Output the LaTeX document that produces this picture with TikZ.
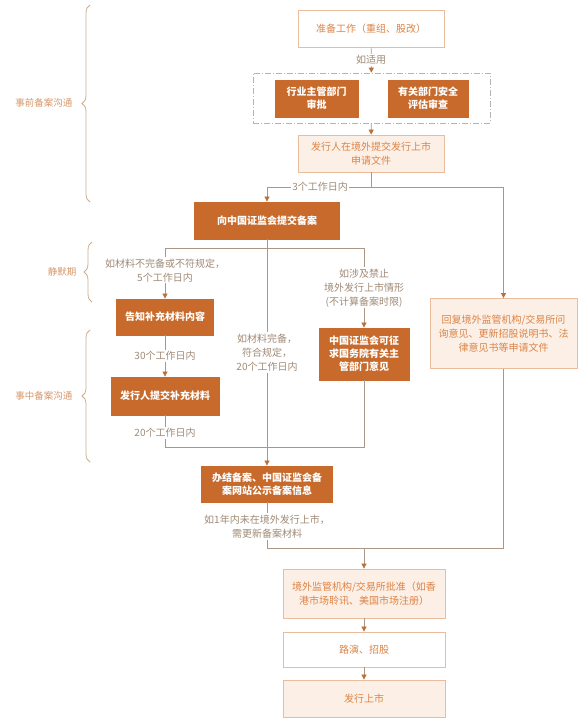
\documentclass[tikz,border=0pt]{standalone}
\usepackage{fontspec}
\setmainfont{Noto Sans CJK SC}
\usetikzlibrary{arrows.meta,decorations.pathreplacing}

\definecolor{darkc}{RGB}{199,106,43}
\definecolor{peachc}{RGB}{252,239,230}
\definecolor{borderc}{RGB}{232,188,156}
\definecolor{orangec}{RGB}{220,132,70}
\definecolor{labelc}{RGB}{160,138,118}
\definecolor{linec}{RGB}{172,150,134}
\definecolor{arrowc}{RGB}{185,112,58}
\definecolor{bracec}{RGB}{205,172,142}
\definecolor{bracetxt}{RGB}{214,150,104}
\definecolor{grayc}{RGB}{180,180,180}

\begin{document}
\begin{tikzpicture}[x=1pt,y=-1pt,
    font=\fontsize{10}{14}\selectfont,
    box/.style={draw=borderc,line width=0.8pt,align=center,inner sep=0pt},
    darkbox/.style={box,draw=darkc,fill=darkc,text=white,font=\fontsize{10}{13}\selectfont\bfseries},
    lightbox/.style={box,fill=peachc,text=orangec},
    whitebox/.style={box,fill=white,text=orangec},
    groupbox/.style={draw=grayc,line width=0.7pt,dash pattern=on 6pt off 2pt on 1pt off 2pt},
    lbl/.style={fill=white,text=labelc,align=center,inner sep=1.5pt},
    conn/.style={draw=linec,line width=0.7pt},
    arr/.style={conn,-{Triangle[width=5pt,length=5pt,color=arrowc]}},
    brc/.style={draw=bracec,line width=0.8pt,decorate,decoration={brace,amplitude=8pt}},
    brlbl/.style={text=bracetxt,anchor=east,font=\fontsize{9.5}{12}\selectfont}]
\useasboundingbox (0,0) rectangle (588,723);

\node (A)[whitebox,minimum width=146,minimum height=37] at (371,28.5) {准备工作（重组、股改）};
\node (G)[groupbox,minimum width=237,minimum height=50] at (371.5,98) {};
\node (B)[darkbox,minimum width=83,minimum height=37] at (316.5,98.5) {行业主管部门\\审批};
\node (C)[darkbox,minimum width=80,minimum height=37] at (428,98.5) {有关部门安全\\评估审查};
\node (D)[lightbox,minimum width=146,minimum height=37] at (371,153.5) {发行人在境外提交发行上市\\申请文件};
\node (E)[darkbox,minimum width=145,minimum height=37] at (267,220.5) {向中国证监会提交备案};
\node (F)[darkbox,minimum width=97,minimum height=36] at (165,317) {告知补充材料内容};
\node (H)[darkbox,minimum width=108,minimum height=38] at (165,396) {发行人提交补充材料};
\node (I)[darkbox,minimum width=90,minimum height=52] at (364,354) {中国证监会可征\\求国务院有关主\\管部门意见};
\node (J)[lightbox,minimum width=147,minimum height=70] at (503.5,333.5) {回复境外监管机构/交易所问\\询意见、更新招股说明书、法\\律意见书等申请文件};
\node (K)[darkbox,minimum width=131,minimum height=36] at (267,484) {办结备案、中国证监会备\\案网站公示备案信息};
\node (L)[lightbox,minimum width=162,minimum height=49] at (364,593.5) {境外监管机构/交易所批准（如香\\港市场聆讯、美国市场注册）};
\node (M)[whitebox,minimum width=162,minimum height=35] at (364,649.5) {路演、招股};
\node (N)[lightbox,minimum width=162,minimum height=37] at (364,698.5) {发行上市};

\coordinate (j1) at (371,187);
\coordinate (j2) at (267,248);
\coordinate (j3) at (165,447);
\coordinate (j4) at (364,447);
\coordinate (j5) at (267,548);
\coordinate (j6) at (503.5,548);
\coordinate (j7) at (364,548);

\path (A) edge[arr] node[lbl] {如适用} (G);
\path (G) edge[arr] (D);
\draw[conn] (D) -- (j1);
\draw[arr] (j1) -| node[lbl,pos=0.245] {3个工作日内} (E);
\draw[arr] (j1) -| (J);
\draw[conn] (E) -- (j2);
\draw[arr] (j2) -| node[lbl,pos=0.72] {如材料不完备或不符规定，\\5个工作日内} (F);
\draw[arr] (j2) -| node[lbl,pos=0.75] {如涉及禁止\\境外发行上市情形\\(不计算备案时限)} (I);
\path (E) edge[arr] node[lbl] {如材料完备，\\符合规定，\\20个工作日内} (K);
\path (F) edge[arr] node[lbl] {30个工作日内} (H);
\draw[conn] (H) -- node[lbl,pos=0.56] {20个工作日内} (j3) -- (j4) -- (I);
\draw[conn] (K) -- node[lbl,pos=0.53] {如1年内未在境外发行上市，\\需更新备案材料} (j5) -- (j6) -- (J);
\path (j7) edge[arr] (L);
\path (L) edge[arr] (M);
\path (M) edge[arr] (N);

\draw[brc] (90,202) -- (90,5);
\node (P1)[brlbl] at (76,103) {事前备案沟通};
\draw[brc] (92,302) -- (92,242);
\node (P2)[brlbl] at (80,272) {静默期};
\draw[brc] (90,462) -- (90,330);
\node (P3)[brlbl] at (76,396) {事中备案沟通};
\end{tikzpicture}
\end{document}
